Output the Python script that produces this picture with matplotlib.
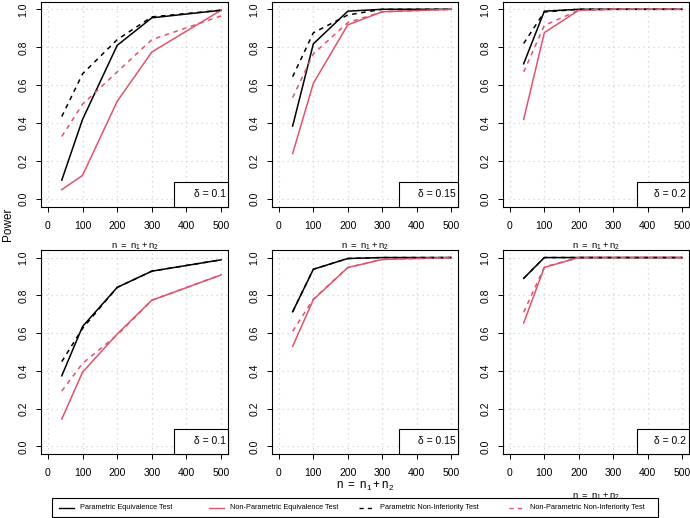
import matplotlib
matplotlib.use('Agg')
import matplotlib.pyplot as plt
from matplotlib.patches import Rectangle
from matplotlib.lines import Line2D

plt.rcParams['font.family'] = ['Liberation Sans', 'DejaVu Sans']
plt.rcParams['mathtext.fontset'] = 'custom'
plt.rcParams['mathtext.rm'] = 'Liberation Sans'
plt.rcParams['mathtext.it'] = 'Liberation Sans'

# sample sizes n = n1 + n2
n = [40, 100, 200, 300, 500]
deltas = ['0.1', '0.15', '0.2', '0.1', '0.15', '0.2']
series_names = ['Parametric Equivalence Test', 'Non-Parametric Equivalence Test',
                'Parametric Non-Inferiority Test', 'Non-Parametric Non-Inferiority Test']

# power per panel (top row: 3 deltas, bottom row: 3 deltas)
p_equiv = [
    [0.10, 0.42, 0.81, 0.955, 0.995],
    [0.385, 0.818, 0.99, 1.0, 1.0],
    [0.713, 0.99, 1.0, 1.0, 1.0],
    [0.374, 0.635, 0.842, 0.928, 0.988],
    [0.713, 0.938, 0.995, 1.0, 1.0],
    [0.89, 1.0, 1.0, 1.0, 1.0],
]
np_equiv = [
    [0.05, 0.125, 0.515, 0.775, 0.995],
    [0.24, 0.61, 0.918, 0.987, 1.0],
    [0.42, 0.877, 0.995, 1.0, 1.0],
    [0.145, 0.393, 0.595, 0.774, 0.908],
    [0.53, 0.777, 0.947, 0.99, 1.0],
    [0.653, 0.948, 1.0, 1.0, 1.0],
]
p_noninf = [
    [0.435, 0.66, 0.84, 0.96, 0.995],
    [0.645, 0.876, 0.97, 1.0, 1.0],
    [0.82, 0.986, 1.0, 1.0, 1.0],
    [0.449, 0.625, 0.842, 0.928, 0.988],
    [0.713, 0.938, 0.995, 1.0, 1.0],
    [0.89, 1.0, 1.0, 1.0, 1.0],
]
np_noninf = [
    [0.33, 0.50, 0.67, 0.84, 0.965],
    [0.535, 0.765, 0.93, 0.987, 1.0],
    [0.67, 0.915, 0.995, 1.0, 1.0],
    [0.293, 0.44, 0.59, 0.774, 0.908],
    [0.61, 0.78, 0.947, 0.99, 1.0],
    [0.71, 0.95, 1.0, 1.0, 1.0],
]

RED = '#DF536B'
styles = [('black', '-'), (RED, '-'), ('black', (0, (3, 3))), (RED, (0, (3, 3)))]

W, H = 690, 518
fig = plt.figure(figsize=(W / 100, H / 100), dpi=100)


def fx(x):
    return x / W


def fy(y):
    return 1 - y / H


lefts = [41, 272, 503]
rights = [228, 458, 689]
tops = [1.7, 250]
bottoms = [206.7, 454]
box_w = [54, 59, 52]  # width of the delta box, px

for k in range(6):
    r, c = divmod(k, 3)
    axw = rights[c] - lefts[c]
    axh = bottoms[r] - tops[r]
    ax = fig.add_axes([fx(lefts[c]), fy(bottoms[r]), axw / W, axh / H])
    ax.set_facecolor('white')

    for data, (col, ls) in zip([p_equiv, np_equiv, p_noninf, np_noninf], styles):
        ax.plot(n, data[k], color=col, linestyle=ls, lw=1.1)

    ax.set_xlim(-20, 520)
    ax.set_ylim(-0.04, 1.04)
    ax.set_xticks(range(0, 501, 100))
    ax.set_yticks([0, 0.2, 0.4, 0.6, 0.8, 1.0])
    ax.set_yticklabels(['0.0', '0.2', '0.4', '0.6', '0.8', '1.0'], rotation=90, va='center')
    ax.grid(True, color='#D3D3D3', linestyle=(0, (1, 3)), lw=0.9)
    ax.set_axisbelow(True)
    ax.tick_params(labelsize=7.5, length=3.6, width=0.7, color='black')
    ax.tick_params(axis='x', pad=6.5)
    ax.tick_params(axis='y', pad=5.5)
    for s in ax.spines.values():
        s.set_linewidth(0.8)

    # delta box in bottom right corner
    bw = box_w[c] / axw
    bh = 25 / axh
    ax.add_patch(Rectangle((1 - bw, 0), bw, bh, transform=ax.transAxes,
                           facecolor='white', edgecolor='black', lw=0.8,
                           zorder=5, clip_on=False))
    ax.text(1 - 2.5 / axw, bh / 2, '\u03b4 = ' + deltas[k], transform=ax.transAxes,
            ha='right', va='center', fontsize=7.5, zorder=6)

    # x labels
    if r == 0:
        ax.text(0.5, -40 / axh, r'$\mathrm{n\ =\ n_1 + n_2}$', transform=ax.transAxes,
                ha='center', va='center', fontsize=6.8)
    elif c == 1:
        ax.text(0.5, -32.7 / axh, r'$\mathrm{n\ =\ n_1 + n_2}$', transform=ax.transAxes,
                ha='center', va='center', fontsize=8.4)
    elif c == 2:
        ax.text(0.5, -42.7 / axh, r'$\mathrm{n\ =\ n_1 + n_2}$', transform=ax.transAxes,
                ha='center', va='center', fontsize=6.8)

fig.text(fx(8), fy(224), 'Power', rotation=90, ha='center', va='center', fontsize=8.5)

# shared legend at the bottom
fig.patches.append(Rectangle((fx(52), fy(516.7)), (658 - 52) / W, (516.7 - 498) / H,
                             transform=fig.transFigure, facecolor='white',
                             edgecolor='black', lw=0.8, zorder=10))
ly = fy(507.5)
for i, (name, (col, ls)) in enumerate(zip(series_names, styles)):
    x0 = 59 + 150 * i
    fig.lines.append(Line2D([fx(x0), fx(x0 + 15)], [ly, ly], transform=fig.transFigure,
                            color=col, linestyle=ls, lw=1.0, zorder=11))
    fig.text(fx(x0 + 21), ly, name, ha='left', va='center', fontsize=5.3, zorder=12)

fig.savefig('out.png', dpi=100)
